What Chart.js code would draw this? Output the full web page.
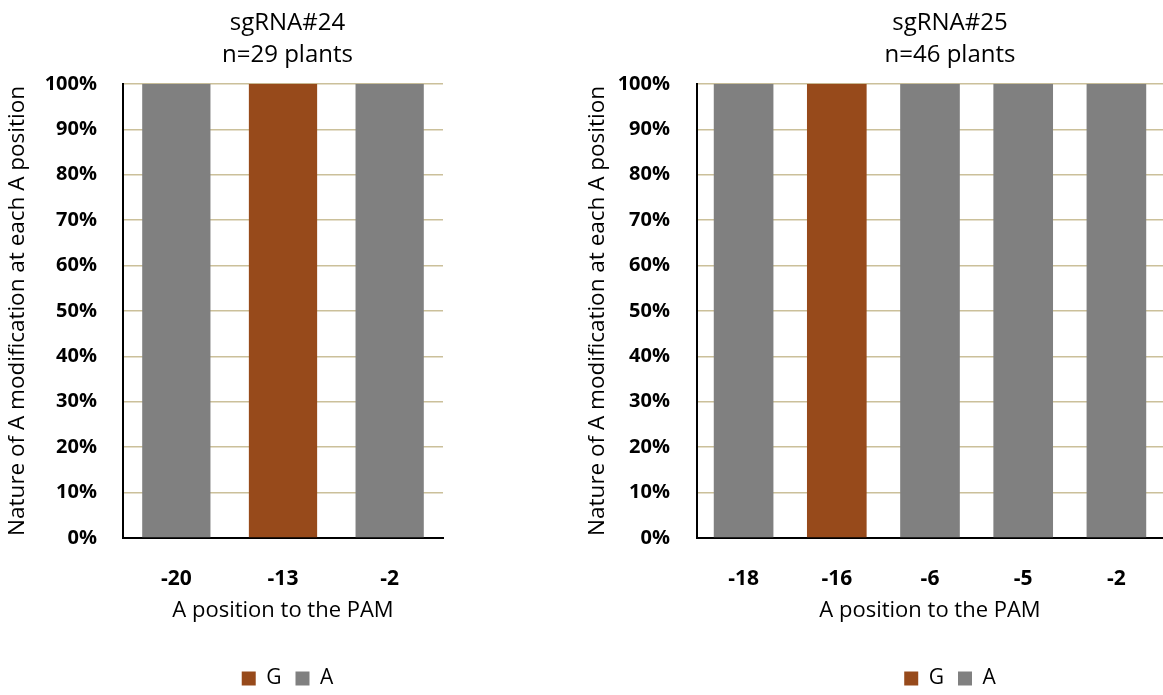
<html>
  <head>
    <style>
      body { margin: 0; overflow: hidden; background: #fff; width: 1163px; height: 695px; position: relative; }
      canvas { position: absolute; top: 0; }
    </style>
  </head>
  <body>
    <canvas id="chart24" width="575" height="699" style="left:0px"></canvas>
    <canvas id="chart25" width="740" height="699" style="left:580px"></canvas>

    <script src="https://cdn.jsdelivr.net/npm/chart.js"></script>

    <script>
      // sgRNA#24
      var positions24 = ["-20", "-13", "-2"];
      var g24 = [0, 100, 0];
      var a24 = [100, 0, 100];

      // sgRNA#25
      var positions25 = ["-18", "-16", "-6", "-5", "-2"];
      var g25 = [0, 100, 0, 0, 0];
      var a25 = [100, 0, 100, 100, 100];

      var yTicks = [0, 10, 20, 30, 40, 50, 60, 70, 80, 90, 100];

      var brown = "#974a1b";
      var grey = "#808080";

      Chart.defaults.color = "#000";
      Chart.defaults.font.family = "'Open Sans', sans-serif";

      function makeChart(id, title, labels, gData, aData, yWidth, rightWidth, tickPad) {
        var config = {
          type: "bar",
          data: {
            labels: labels,
            datasets: [
              { label: "G", data: gData, backgroundColor: brown },
              { label: "A", data: aData, backgroundColor: grey },
            ],
          },
          options: {
            responsive: false,
            animation: false,
            datasets: {
              bar: { categoryPercentage: 1, barPercentage: 0.64 },
            },
            layout: { padding: 0 },
            plugins: {
              title: {
                display: true,
                text: title,
                color: "#000",
                font: { size: 24, weight: "normal", lineHeight: 1.33 },
                padding: { top: 7, bottom: 13 },
              },
              legend: {
                position: "bottom",
                labels: {
                  boxWidth: 14,
                  boxHeight: 14,
                  padding: 14,
                  font: { size: 21 },
                },
              },
              tooltip: { enabled: false },
            },
            scales: {
              x: {
                stacked: true,
                grid: { display: false },
                border: { display: true, color: "#000", width: 2 },
                ticks: { padding: 20, font: { size: 21, weight: "bold" } },
                title: {
                  display: true,
                  text: "A position to the PAM",
                  font: { size: 22 },
                  padding: { top: 0, bottom: 30 },
                },
                afterFit: function (s) { s.height = 116; },
              },
              y: {
                stacked: true,
                min: 0,
                max: 100,
                afterBuildTicks: function (s) {
                  s.ticks = yTicks.map(function (v) { return { value: v }; });
                },
                grid: { color: "#cbc09a", lineWidth: 1.5, drawTicks: false },
                border: { display: true, color: "#000", width: 2 },
                ticks: {
                  padding: tickPad,
                  font: { size: 20, weight: "bold" },
                  callback: function (v) { return v + "%"; },
                },
                title: {
                  display: true,
                  text: "Nature of A modification at each A position",
                  font: { size: 22.5 },
                  padding: { top: 4, bottom: 0 },
                },
                afterFit: function (s) { s.width = yWidth; },
              },
              spacer: {
                position: "right",
                min: 0,
                max: 100,
                grid: { display: false },
                border: { display: false },
                ticks: { display: false },
                afterFit: function (s) { s.width = rightWidth; },
              },
            },
          },
        };
        return new Chart(document.getElementById(id), config);
      }

      makeChart("chart24", ["sgRNA#24", "n=29 plants"], positions24, g24, a24, 123, 132, 26);
      makeChart("chart25", ["sgRNA#25", "n=46 plants"], positions25, g25, a25, 117, 157, 27);
    </script>
  </body>
</html>
